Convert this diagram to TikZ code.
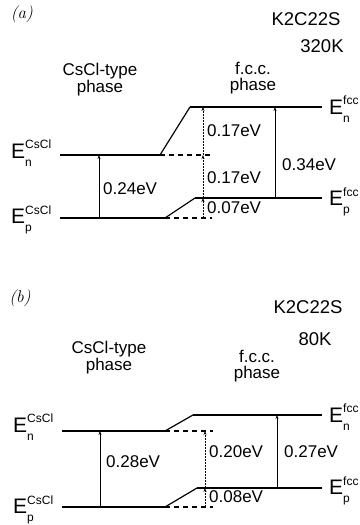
\documentclass[tikz,border=0pt]{standalone}
\usepackage{fontspec}
\setmainfont{Liberation Sans}
\usetikzlibrary{arrows.meta}
\newcommand\levlab[2]{\fontsize{21}{21}\selectfont E\rlap{\raisebox{0.45em}{\fontsize{12}{12}\selectfont #1}}\raisebox{-0.38em}{\fontsize{12}{12}\selectfont #2}}
\tikzset{
  lev/.style={line width=1.7pt},
  slope/.style={line width=1.2pt},
  dash lev/.style={line width=1.1pt, dash pattern=on 5pt off 4pt},
  gap/.style={line width=0.9pt, -{Stealth[length=4pt,width=3pt]}},
  gapdot/.style={line width=0.9pt, dash pattern=on 2pt off 1pt, -{Stealth[length=4pt,width=3pt]}},
  txt/.style={inner sep=0pt, font=\fontsize{17}{18}\selectfont},
  big/.style={inner sep=0pt, font=\fontsize{18.5}{18}\selectfont},
  ttl/.style={inner sep=0pt, align=center, font=\fontsize{17}{15.5}\selectfont},
  plab/.style={inner sep=0pt, font=\fontfamily{lmr}\itshape\fontsize{17}{17}\selectfont},
  elab/.style={inner sep=0pt, anchor=west}
}
\begin{document}
\begin{tikzpicture}[x=1pt,y=-1pt]
\useasboundingbox (0,0) rectangle (359,525);
% ---------------- panel (a) ----------------
\node[plab] (pa) at (22,14) {(\textit{a})};
\node[big] (ka) at (306,19) {K2C22S};
\node[big] (ta) at (322,46) {320K};
\node[ttl] (csa) at (100,80) {CsCl-type\\phase};
\node[ttl] (fca) at (253,78) {f.c.c.\\phase};
\coordinate (anL) at (60,155);
\coordinate (anK) at (160,155);
\coordinate (anT) at (190,107);
\coordinate (anR) at (322,107);
\coordinate (anD) at (212,155);
\coordinate (apL) at (60,218);
\coordinate (apK) at (165,218);
\coordinate (apT) at (195,198);
\coordinate (apR) at (322,198);
\coordinate (apD) at (212,218);
\draw[lev] (anL) -- (anK);
\draw[slope] (anK) -- (anT);
\draw[lev] (anT) -- (anR);
\draw[dash lev] (anK) -- (anD);
\draw[lev] (apL) -- (apK);
\draw[slope] (apK) -- (apT);
\draw[lev] (apT) -- (apR);
\draw[dash lev] (apK) -- (apD);
\coordinate (av1) at (203,107);
\coordinate (av2) at (203,155);
\coordinate (av3) at (203,198);
\coordinate (av4) at (203,218);
\draw[gapdot] (av2) -- (av1);
\draw[gapdot] (av3) -- (av2);
\draw[gapdot] (av4) -- (av3);
\coordinate (ab1) at (99,155);
\coordinate (ab2) at (99,218);
\draw[gap] (ab2) -- (ab1);
\coordinate (ac1) at (275,107);
\coordinate (ac2) at (275,198);
\draw[gap] (ac2) -- (ac1);
\node[txt, anchor=west] (l1) at (207,131) {0.17eV};
\node[txt, anchor=west] (l2) at (207,178) {0.17eV};
\node[txt, anchor=west] (l3) at (207,208) {0.07eV};
\node[txt, anchor=west] (l4) at (103,189) {0.24eV};
\node[txt, anchor=west] (l5) at (282,165) {0.34eV};
\node[elab] (ena) at (11,153) {\levlab{CsCl}{n}};
\node[elab] (epa) at (11,220) {\levlab{CsCl}{p}};
\node[elab] (fna) at (329,109) {\levlab{fcc}{n}};
\node[elab] (fpa) at (329,202) {\levlab{fcc}{p}};
% ---------------- panel (b) ----------------
\node[plab] (pb) at (20,298) {(\textit{b})};
\node[big] (kb) at (308,307) {K2C22S};
\node[big] (tb) at (315,339) {80K};
\node[ttl] (csb) at (109,358) {CsCl-type\\phase};
\node[ttl] (fcb) at (257,366) {f.c.c.\\phase};
\coordinate (bnL) at (62,431);
\coordinate (bnK) at (165,431);
\coordinate (bnT) at (193,415);
\coordinate (bnR) at (322,415);
\coordinate (bnD) at (213,431);
\coordinate (bpL) at (62,507);
\coordinate (bpK) at (165,507);
\coordinate (bpT) at (197,488);
\coordinate (bpR) at (322,488);
\coordinate (bpD) at (213,507);
\draw[lev] (bnL) -- (bnK);
\draw[slope] (bnK) -- (bnT);
\draw[lev] (bnT) -- (bnR);
\draw[dash lev] (bnK) -- (bnD);
\draw[lev] (bpL) -- (bpK);
\draw[slope] (bpK) -- (bpT);
\draw[lev] (bpT) -- (bpR);
\draw[dash lev] (bpK) -- (bpD);
\coordinate (bv1) at (205,431);
\coordinate (bv2) at (205,488);
\coordinate (bv3) at (205,507);
\draw[gapdot] (bv2) -- (bv1);
\draw[gapdot] (bv3) -- (bv2);
\coordinate (bb1) at (100,431);
\coordinate (bb2) at (100,507);
\draw[gap] (bb2) -- (bb1);
\coordinate (bc1) at (277,415);
\coordinate (bc2) at (277,488);
\draw[gap] (bc2) -- (bc1);
\node[txt, anchor=west] (m1) at (209,452) {0.20eV};
\node[txt, anchor=west] (m2) at (209,497) {0.08eV};
\node[txt, anchor=west] (m3) at (106,462) {0.28eV};
\node[txt, anchor=west] (m4) at (284,452) {0.27eV};
\node[elab] (enb) at (13,427) {\levlab{CsCl}{n}};
\node[elab] (epb) at (13,510) {\levlab{CsCl}{p}};
\node[elab] (fnb) at (329,417) {\levlab{fcc}{n}};
\node[elab] (fpb) at (329,491) {\levlab{fcc}{p}};
\end{tikzpicture}
\end{document}
